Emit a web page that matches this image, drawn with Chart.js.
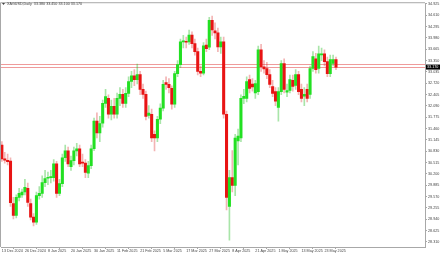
<!DOCTYPE html>
<html>
<head>
<meta charset="utf-8">
<script src="https://cdn.jsdelivr.net/npm/chart.js@4.4.1/dist/chart.umd.min.js"></script>
<style>
  html, body { margin: 0; padding: 0; background: #fff; }
  #wrap { width: 440px; height: 254px; position: relative; }
</style>
</head>
<body>
<div id="wrap"><canvas id="chart"></canvas></div>
<script>
// ====== Data ======
const symbolTitle = 'XAGUSD,Daily  33.380 33.450 33.100 33.170';

const dates = [
  '13 Dec 2024', '16 Dec 2024', '17 Dec 2024', '18 Dec 2024', '19 Dec 2024', '20 Dec 2024', '23 Dec 2024', '24 Dec 2024',
  '26 Dec 2024', '27 Dec 2024', '30 Dec 2024', '31 Dec 2024', '2 Jan 2025', '3 Jan 2025', '6 Jan 2025', '7 Jan 2025',
  '8 Jan 2025', '9 Jan 2025', '10 Jan 2025', '13 Jan 2025', '14 Jan 2025', '15 Jan 2025', '16 Jan 2025', '17 Jan 2025',
  '20 Jan 2025', '21 Jan 2025', '22 Jan 2025', '23 Jan 2025', '24 Jan 2025', '27 Jan 2025', '28 Jan 2025', '29 Jan 2025',
  '30 Jan 2025', '31 Jan 2025', '3 Feb 2025', '4 Feb 2025', '5 Feb 2025', '6 Feb 2025', '7 Feb 2025', '10 Feb 2025',
  '11 Feb 2025', '12 Feb 2025', '13 Feb 2025', '14 Feb 2025', '17 Feb 2025', '18 Feb 2025', '19 Feb 2025', '20 Feb 2025',
  '21 Feb 2025', '24 Feb 2025', '25 Feb 2025', '26 Feb 2025', '27 Feb 2025', '28 Feb 2025', '3 Mar 2025', '4 Mar 2025',
  '5 Mar 2025', '6 Mar 2025', '7 Mar 2025', '10 Mar 2025', '11 Mar 2025', '12 Mar 2025', '13 Mar 2025', '14 Mar 2025',
  '17 Mar 2025', '18 Mar 2025', '19 Mar 2025', '20 Mar 2025', '21 Mar 2025', '24 Mar 2025', '25 Mar 2025', '26 Mar 2025',
  '27 Mar 2025', '28 Mar 2025', '31 Mar 2025', '1 Apr 2025', '2 Apr 2025', '3 Apr 2025', '4 Apr 2025', '7 Apr 2025',
  '8 Apr 2025', '9 Apr 2025', '10 Apr 2025', '11 Apr 2025', '14 Apr 2025', '15 Apr 2025', '16 Apr 2025', '17 Apr 2025',
  '21 Apr 2025', '22 Apr 2025', '23 Apr 2025', '24 Apr 2025', '25 Apr 2025', '28 Apr 2025', '29 Apr 2025', '30 Apr 2025',
  '1 May 2025', '2 May 2025', '5 May 2025', '6 May 2025', '7 May 2025', '8 May 2025', '9 May 2025', '12 May 2025',
  '13 May 2025', '14 May 2025', '15 May 2025', '16 May 2025', '19 May 2025', '20 May 2025', '21 May 2025', '22 May 2025',
  '23 May 2025', '26 May 2025', '27 May 2025', '28 May 2025', '29 May 2025'
];

const opens = [
  31.00, 30.62, 30.58, 30.56, 29.38, 29.05, 29.55, 29.62, 29.70, 29.80, 29.38, 29.00, 28.86, 29.60, 29.66, 29.96,
  30.08, 30.10, 30.10, 30.48, 29.66, 29.93, 30.65, 30.84, 30.40, 30.57, 30.84, 30.90, 30.52, 30.50, 30.22, 30.43,
  30.90, 31.67, 31.34, 31.61, 32.16, 32.30, 31.86, 32.08, 31.86, 32.30, 32.41, 32.16, 32.44, 32.77, 32.93, 32.82,
  32.96, 32.55, 32.41, 31.83, 31.86, 31.30, 31.20, 31.72, 32.03, 32.74, 32.69, 32.58, 32.14, 32.99, 33.24, 33.87,
  33.88, 33.87, 34.06, 33.82, 33.60, 33.05, 33.00, 33.78, 33.72, 34.47, 34.18, 34.12, 33.73, 33.87, 31.86, 29.30,
  30.10, 29.88, 31.12, 31.20, 32.30, 32.30, 32.82, 32.70, 32.45, 32.49, 33.65, 33.18, 33.13, 32.96, 32.63, 32.49,
  32.05, 32.49, 33.27, 32.47, 32.52, 32.80, 32.66, 32.96, 32.55, 32.36, 32.55, 32.41, 33.13, 33.40, 33.13, 33.51,
  33.54, 33.32, 32.99, 33.27, 33.38
];

const highs = [
  31.10, 30.80, 30.75, 30.65, 29.55, 29.62, 29.80, 29.78, 30.05, 29.95, 29.50, 29.10, 29.70, 29.85, 30.15, 30.30,
  30.25, 30.30, 30.60, 30.55, 30.05, 30.75, 31.00, 30.95, 30.70, 30.95, 31.05, 31.00, 30.75, 30.60, 30.55, 31.00,
  31.75, 31.90, 31.80, 32.25, 32.55, 32.40, 32.25, 32.30, 32.45, 32.60, 32.55, 32.60, 32.90, 33.05, 33.10, 33.25,
  33.05, 32.70, 32.50, 32.10, 32.00, 31.40, 31.80, 32.15, 32.80, 32.90, 32.85, 32.65, 33.05, 33.35, 33.95, 34.05,
  34.00, 34.20, 34.15, 33.95, 33.70, 33.20, 33.85, 33.95, 34.55, 34.59, 34.40, 34.25, 34.00, 34.00, 31.95, 30.30,
  30.85, 31.30, 31.45, 32.40, 32.55, 32.90, 32.95, 32.85, 32.80, 33.75, 33.80, 33.35, 33.30, 33.10, 32.80, 32.60,
  32.60, 33.35, 33.40, 32.70, 32.95, 32.95, 33.10, 33.05, 32.70, 32.60, 32.70, 33.20, 33.60, 33.55, 33.75, 33.70,
  33.65, 33.45, 33.50, 33.50, 33.45
];

const lows = [
  30.55, 30.50, 30.45, 29.30, 28.95, 28.98, 29.45, 29.55, 29.62, 29.30, 28.92, 28.76, 28.80, 29.50, 29.55, 29.85,
  29.90, 29.95, 30.00, 29.55, 29.60, 29.85, 30.55, 30.40, 30.30, 30.45, 30.70, 30.40, 30.40, 30.10, 30.10, 30.35,
  30.85, 31.20, 31.10, 31.50, 32.05, 31.75, 31.70, 31.75, 31.75, 32.10, 32.05, 32.05, 32.35, 32.60, 32.65, 32.70,
  32.40, 32.30, 31.70, 31.75, 31.10, 30.84, 31.10, 31.60, 31.95, 32.55, 32.45, 32.00, 32.05, 32.90, 33.15, 33.70,
  33.70, 33.80, 33.70, 33.50, 32.95, 32.90, 32.95, 33.60, 33.65, 34.05, 33.95, 33.60, 33.55, 31.75, 29.20, 28.36,
  29.70, 29.60, 30.45, 31.10, 32.15, 32.20, 32.45, 32.50, 32.30, 32.40, 33.05, 33.00, 32.85, 32.60, 32.35, 32.10,
  31.67, 32.40, 32.45, 32.35, 32.45, 32.50, 32.55, 32.40, 32.20, 32.10, 32.20, 32.30, 33.05, 33.00, 33.00, 33.35,
  33.20, 32.90, 32.90, 33.20, 33.10
];

const closes = [
  30.62, 30.58, 30.54, 29.40, 29.05, 29.55, 29.66, 29.70, 29.83, 29.41, 29.00, 28.86, 29.60, 29.66, 29.96, 30.07,
  30.10, 30.12, 30.48, 29.66, 29.93, 30.65, 30.84, 30.48, 30.57, 30.84, 30.90, 30.48, 30.50, 30.24, 30.43, 30.90,
  31.67, 31.34, 31.60, 32.16, 32.35, 31.86, 32.08, 31.86, 32.30, 32.41, 32.16, 32.44, 32.77, 32.93, 32.82, 32.96,
  32.55, 32.41, 31.80, 31.89, 31.20, 31.20, 31.72, 32.03, 32.69, 32.69, 32.60, 32.14, 32.99, 33.24, 33.87, 33.90,
  33.86, 34.06, 33.82, 33.60, 33.05, 33.00, 33.76, 33.68, 34.47, 34.20, 34.12, 33.73, 33.87, 31.86, 29.55, 30.10,
  29.88, 31.20, 31.25, 32.30, 32.36, 32.77, 32.58, 32.62, 32.71, 33.65, 33.18, 33.12, 32.96, 32.69, 32.44, 32.22,
  32.49, 33.27, 32.55, 32.52, 32.82, 32.63, 32.96, 32.49, 32.30, 32.41, 32.30, 33.13, 33.46, 33.10, 33.54, 33.53,
  33.32, 32.99, 33.38, 33.38, 33.17
];

// price scale labels on the right
const yTicks = [
  34.925, 34.610, 34.295, 33.980, 33.665, 33.350, 33.035, 32.720, 32.405, 32.090, 31.775,
  31.460, 31.145, 30.830, 30.515, 30.200, 29.885, 29.570, 29.255, 28.940, 28.625, 28.310
];
// bars that carry a date label
const xTicks = [0, 8, 16, 24, 32, 40, 48, 56, 64, 72, 80, 88, 96, 104, 112];

const bidPrice = 33.17;
const askPrice = 33.25;

// ====== Colors ======
const upColor = '#22e022';
const downColor = '#e81414';
const upWick = 'rgba(40, 190, 40, 0.4)';
const downWick = 'rgba(220, 40, 40, 0.35)';
const axisColor = '#a8a8a8';
const textColor = '#444444';
const tinyFont = { family: 'Arial, "Liberation Sans", sans-serif', size: 3.7 };

// ====== Build datasets ======
const isUp = dates.map((d, i) => closes[i] >= opens[i]);
const bodyData = dates.map((d, i) => ({ x: i, y: [opens[i], closes[i]] }));
const wickData = dates.map((d, i) => ({ x: i, y: [lows[i], highs[i]] }));

// frame, bid/ask lines, price box and title
const terminalPlugin = {
  id: 'terminal',
  beforeDatasetsDraw(chart) {
    const { ctx, chartArea: a, scales: { y } } = chart;
    ctx.save();
    ctx.lineWidth = 1;
    ctx.strokeStyle = 'rgba(235, 130, 130, 0.8)';
    [askPrice, bidPrice].forEach(p => {
      const py = Math.round(y.getPixelForValue(p)) + 0.5;
      ctx.beginPath();
      ctx.moveTo(a.left, py);
      ctx.lineTo(a.right, py);
      ctx.stroke();
    });
    ctx.restore();
  },
  afterDraw(chart) {
    const { ctx, chartArea: a, scales: { y } } = chart;
    ctx.save();
    // left and top frame
    ctx.strokeStyle = axisColor;
    ctx.lineWidth = 1;
    ctx.beginPath();
    ctx.moveTo(a.left - 0.5, a.bottom);
    ctx.lineTo(a.left - 0.5, a.top - 0.5);
    ctx.lineTo(a.right, a.top - 0.5);
    ctx.stroke();

    // current price box
    const py = y.getPixelForValue(bidPrice);
    ctx.fillStyle = '#000';
    ctx.fillRect(a.right + 1, py - 2.5, 14, 5);
    ctx.fillStyle = '#fff';
    ctx.font = `${tinyFont.size}px ${tinyFont.family}`;
    ctx.textBaseline = 'middle';
    ctx.textAlign = 'left';
    ctx.fillText(bidPrice.toFixed(3), a.right + 2, py);

    // title
    ctx.fillStyle = textColor;
    ctx.beginPath();
    ctx.moveTo(2, 3);
    ctx.lineTo(5, 3);
    ctx.lineTo(3.5, 5);
    ctx.closePath();
    ctx.fill();
    ctx.fillText(symbolTitle, 7, 4);
    ctx.restore();
  }
};

new Chart(document.getElementById('chart'), {
  type: 'bar',
  data: {
    datasets: [
      {
        label: 'wick',
        data: wickData,
        backgroundColor: isUp.map(u => u ? upWick : downWick),
        barThickness: 1,
        grouped: false,
        order: 2
      },
      {
        label: 'body',
        data: bodyData,
        backgroundColor: isUp.map(u => u ? upColor : downColor),
        barThickness: 2.4,
        minBarLength: 1,
        grouped: false,
        order: 1
      }
    ]
  },
  options: {
    responsive: true,
    maintainAspectRatio: false,
    animation: false,
    devicePixelRatio: 1,
    layout: { padding: { left: 1, top: 1, right: 0, bottom: 0 } },
    plugins: {
      legend: { display: false },
      tooltip: { enabled: false }
    },
    scales: {
      x: {
        type: 'linear',
        min: -0.3,
        max: 146.9,
        offset: false,
        grid: { drawOnChartArea: false, tickLength: 2, color: axisColor },
        border: { color: axisColor },
        afterBuildTicks: s => { s.ticks = xTicks.map(v => ({ value: v })); },
        afterFit: s => { s.height = 7; },
        ticks: {
          autoSkip: false,
          maxRotation: 0,
          align: 'start',
          padding: 0,
          color: textColor,
          font: tinyFont,
          callback: v => dates[v]
        }
      },
      y: {
        position: 'right',
        min: 28.171,
        max: 34.944,
        grid: { drawOnChartArea: false, tickLength: 2, color: axisColor },
        border: { color: axisColor },
        afterBuildTicks: s => { s.ticks = yTicks.map(v => ({ value: v })); },
        afterFit: s => { s.width = 15; },
        ticks: {
          autoSkip: false,
          padding: 1,
          color: textColor,
          font: tinyFont,
          callback: v => v.toFixed(3)
        }
      }
    }
  },
  plugins: [terminalPlugin]
});
</script>
</body>
</html>
